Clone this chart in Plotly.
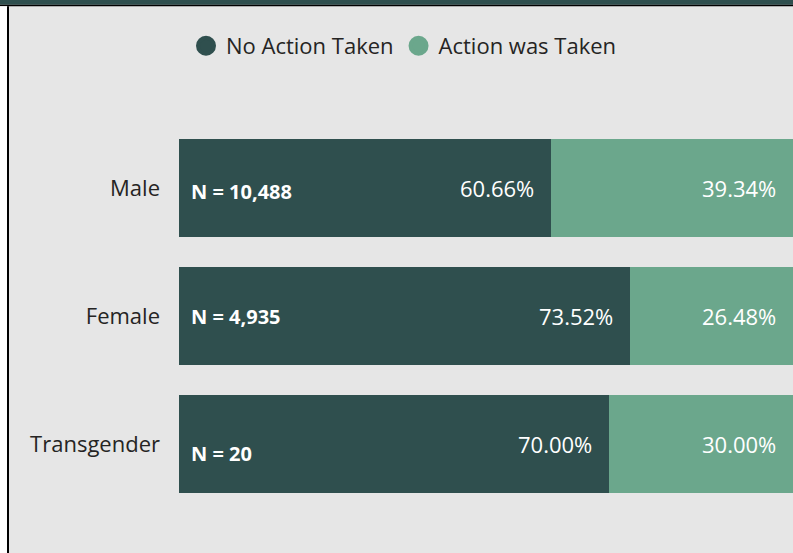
import plotly.graph_objects as go

# ---------------- data ----------------
categories = ["Male", "Female", "Transgender"]
no_action_pct = [60.66, 73.52, 70.00]
action_pct = [39.34, 26.48, 30.00]
counts = [10488, 4935, 20]
series_names = ["No Action Taken", "Action was Taken"]

# ---------------- style ----------------
W, H = 793, 553
ML, MR, MT, MB = 179, 0, 124, 45
PW, PH = W - ML - MR, H - MT - MB
DARK = "#2F4F4E"
LIGHT = "#6BA78C"
BG = "#E6E6E6"
FONT = "Open Sans"
TXT = "#252423"
n_label_yshift = [-3, 0, -9]   # visual offsets of the N labels (px)


def px_x(p):
    return (p - ML) / PW


def px_y(p):
    return (H - MB - p) / PH


fig = go.Figure()

fig.add_trace(go.Bar(
    y=categories, x=no_action_pct, orientation="h", name=series_names[0],
    marker=dict(color=DARK, line=dict(width=0)), showlegend=False,
    hoverinfo="skip",
))
fig.add_trace(go.Bar(
    y=categories, x=action_pct, orientation="h", name=series_names[1],
    marker=dict(color=LIGHT, line=dict(width=0)), showlegend=False,
    hoverinfo="skip",
))

# legend entries with round markers
for name, col in zip(series_names, [DARK, LIGHT]):
    fig.add_trace(go.Scatter(
        x=[None], y=[None], mode="markers", name=name,
        marker=dict(symbol="circle", size=16, color=col,
                    line=dict(color=col, width=4)),
        showlegend=True,
    ))

annotations = []
for i, cat in enumerate(categories):
    annotations.append(dict(
        x=0, y=cat, xref="x", yref="y", xanchor="left", yanchor="middle",
        xshift=10, yshift=n_label_yshift[i], showarrow=False,
        text=f"<b>N = {counts[i]:,}</b>",
        font=dict(family=FONT, size=20, color="white"),
    ))
    annotations.append(dict(
        x=no_action_pct[i], y=cat, xref="x", yref="y", xanchor="right",
        yanchor="middle", xshift=-15, showarrow=False,
        text=f"{no_action_pct[i]:.2f}%",
        font=dict(family=FONT, size=22, color="white"),
    ))
    annotations.append(dict(
        x=no_action_pct[i] + action_pct[i], y=cat, xref="x", yref="y",
        xanchor="right", yanchor="middle", xshift=-15, showarrow=False,
        text=f"{action_pct[i]:.2f}%",
        font=dict(family=FONT, size=22, color="white"),
    ))

shapes = [
    # top dark band
    dict(type="rect", xref="paper", yref="paper", x0=px_x(0), x1=px_x(W),
         y0=px_y(4.7), y1=px_y(0), fillcolor=DARK, line=dict(width=0),
         layer="above"),
    # black rule under band
    dict(type="rect", xref="paper", yref="paper", x0=px_x(0), x1=px_x(W),
         y0=px_y(6.3), y1=px_y(4.7), fillcolor="black", line=dict(width=0),
         layer="above"),
    # white strip at left
    dict(type="rect", xref="paper", yref="paper", x0=px_x(0), x1=px_x(7),
         y0=px_y(H), y1=px_y(6.3), fillcolor="white", line=dict(width=0),
         layer="above"),
    # left black border
    dict(type="rect", xref="paper", yref="paper", x0=px_x(7), x1=px_x(9),
         y0=px_y(H), y1=px_y(6.3), fillcolor="black", line=dict(width=0),
         layer="above"),
]

fig.update_layout(
    width=W, height=H,
    margin=dict(l=ML, r=MR, t=MT, b=MB, pad=0),
    paper_bgcolor=BG, plot_bgcolor=BG,
    barmode="stack", bargap=0.242,
    font=dict(family=FONT, size=22, color=TXT),
    legend=dict(orientation="h", x=px_x(186), y=px_y(46),
                xanchor="left", yanchor="middle", traceorder="normal",
                font=dict(family=FONT, size=22, color=TXT),
                bgcolor="rgba(0,0,0,0)", itemclick=False,
                itemdoubleclick=False),
    xaxis=dict(range=[0, 100], showgrid=False, zeroline=False,
               showticklabels=False, showline=False, fixedrange=True),
    yaxis=dict(categoryorder="array", categoryarray=categories,
               autorange="reversed", showgrid=False, zeroline=False,
               showline=False, ticks="", ticklabelstandoff=18,
               tickfont=dict(family=FONT, size=22, color=TXT),
               fixedrange=True),
    annotations=annotations,
    shapes=shapes,
    showlegend=True,
)

fig.write_html(
    "out.html",
    config={"displayModeBar": False},
    post_script="document.body.style.margin='0';document.body.style.overflow='hidden';",
)
